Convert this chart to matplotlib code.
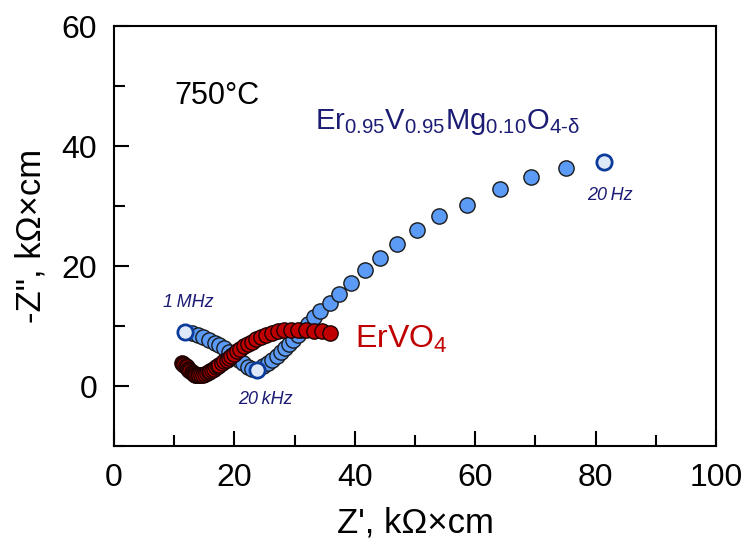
import matplotlib
matplotlib.use("Agg")
import matplotlib.pyplot as plt
from matplotlib.ticker import MultipleLocator

plt.rcParams['font.family'] = ['Liberation Sans', 'DejaVu Sans']
plt.rcParams['mathtext.fontset'] = 'custom'
plt.rcParams['mathtext.rm'] = 'Liberation Sans'
plt.rcParams['mathtext.it'] = 'Liberation Sans:italic'

# Er0.95V0.95Mg0.10O4-d : 1 MHz -> 20 kHz arc, then low-frequency branch to 20 Hz
mg_zre = [11.8, 12.9, 13.9, 14.8, 15.8, 16.7, 17.5, 18.3, 19.1, 19.8, 20.7, 21.5,
          22.3, 22.9, 23.7,
          24.8, 25.6, 26.3, 27.0, 27.7, 28.4, 29.1, 29.8, 30.5, 31.3, 32.3, 33.3,
          34.3, 35.8, 37.4, 39.4, 41.7, 44.2, 47.0, 50.3, 54.0, 58.6, 64.1, 69.2,
          75.1, 81.4]
mg_zim = [9.0, 8.8, 8.5, 8.1, 7.7, 7.2, 6.8, 6.3, 5.7, 5.2, 4.4, 3.8,
          3.2, 2.8, 2.7,
          3.3, 3.9, 4.4, 5.0, 5.7, 6.3, 7.0, 7.7, 8.5, 9.3, 10.4, 11.5,
          12.5, 13.8, 15.4, 17.2, 19.3, 21.3, 23.6, 26.0, 28.4, 30.2, 32.8, 34.9,
          36.4, 37.4]
mg_marked = [0, 14, 40]   # 1 MHz, 20 kHz, 20 Hz

# ErVO4
ev_zre = [11.3, 11.5, 11.7, 11.9, 12.1, 12.3, 12.5, 12.7, 12.9, 13.1, 13.3, 13.5,
          13.7, 13.9, 14.2, 14.5, 14.8, 15.1, 15.4, 15.7, 16.0, 16.3, 16.6, 16.9,
          17.2, 17.5, 17.9, 18.3, 18.7, 19.1, 19.5, 20.0, 20.5, 21.0, 21.6, 22.2,
          22.9, 23.6, 24.4, 25.3, 26.2, 27.2, 28.3, 29.4, 30.6, 31.9, 33.2, 34.5,
          35.9]
ev_zim = [3.9, 3.7, 3.5, 3.3, 3.1, 2.9, 2.7, 2.5, 2.3, 2.2, 2.0, 1.9,
          1.8, 1.8, 1.8, 1.8, 1.9, 2.0, 2.1, 2.3, 2.5, 2.7, 2.9, 3.1,
          3.3, 3.5, 3.8, 4.1, 4.4, 4.7, 5.0, 5.4, 5.8, 6.2, 6.6, 7.0,
          7.4, 7.8, 8.1, 8.5, 8.8, 9.1, 9.3, 9.4, 9.4, 9.3, 9.2, 9.1,
          8.9]

fig = plt.figure(figsize=(7.47, 5.44), dpi=100)
ax = fig.add_axes([0.1526, 0.1801, 0.8059, 0.7721])

ms = 11
ax.plot(mg_zre, mg_zim, 'o', ms=ms, mfc='#5b9af5', mec='#1a1a1a', mew=1.0,
        linestyle='none', zorder=2)
ax.plot(ev_zre, ev_zim, 'o', ms=ms, mfc='#c00000', mec='#1a0000', mew=1.0,
        linestyle='none', zorder=3)
ax.plot([mg_zre[i] for i in mg_marked], [mg_zim[i] for i in mg_marked], 'o',
        ms=ms, mfc='#dfe8f8', mec='#0b3c9c', mew=2.0, linestyle='none', zorder=4)

ax.set_xlim(0, 100)
ax.set_ylim(-10, 60)
ax.xaxis.set_major_locator(MultipleLocator(20))
ax.xaxis.set_minor_locator(MultipleLocator(10))
ax.yaxis.set_major_locator(MultipleLocator(20))
ax.yaxis.set_minor_locator(MultipleLocator(10))
ax.tick_params(which='both', direction='in', top=False, right=False,
               labelsize=23, width=1.5)
ax.tick_params(axis='x', pad=12)
ax.tick_params(axis='y', pad=12)
ax.tick_params(which='major', length=11)
ax.tick_params(which='minor', length=8)
for s in ax.spines.values():
    s.set_linewidth(1.5)

ax.set_xlabel("Z', k\u03a9\u00d7cm", fontsize=25, labelpad=10)
ax.set_ylabel('-Z", k\u03a9\u00d7cm', fontsize=25, labelpad=10)

navy = '#1c1c74'
ax.text(10.1, 48.3, '750\u00b0C', fontsize=22, va='center', ha='left')
ax.text(33.4, 44.0, r'Er$_{0.95}$V$_{0.95}$Mg$_{0.10}$O$_{4\text{-}\mathrm{\delta}}$',
        fontsize=21, color=navy, va='center', ha='left')
ax.text(40.0, 7.7, r'ErVO$_4$', fontsize=23, color='#c00000', va='center', ha='left')
ax.text(8.1, 14.0, '1\u2009MHz', fontsize=13, style='italic', color=navy,
        va='center', ha='left')
ax.text(20.6, -2.3, '20\u2009kHz', fontsize=13, style='italic', color=navy,
        va='center', ha='left')
ax.text(78.6, 31.8, '20\u2009Hz', fontsize=13, style='italic', color=navy,
        va='center', ha='left')

fig.savefig('out.png', dpi=100)
